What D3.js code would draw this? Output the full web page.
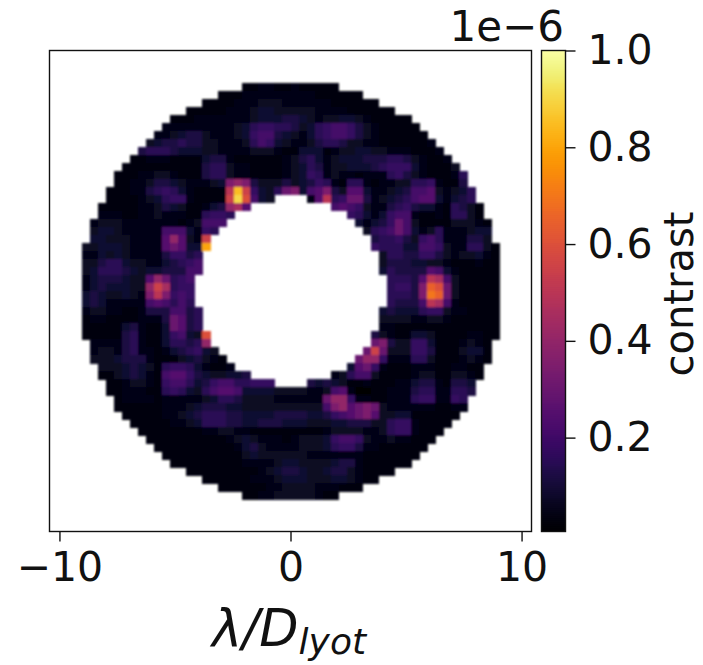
<!DOCTYPE html>
<html>
<head>
<meta charset="utf-8">
<script src="https://cdn.jsdelivr.net/npm/d3@7/dist/d3.min.js"></script>
<style>
html,body{margin:0;padding:0;background:#fff;}
svg{display:block;}
text{font-family:"DejaVu Sans",sans-serif;fill:#111;}
</style>
</head>
<body>
<div id="chart"></div>
<script>
// Contrast, in units of 1e-6, one character per cell.
const levelCodes = "0123456789abcdefghijklmno";
const levelValues = [.01,.03,.05,.07,.09,.12,.15,.18,.21,.25,.3,.35,.4,.45,.5,.55,.6,.65,.7,.75,.8,.85,.9,.95,1];
// Rows from top to bottom, centred on the image; "." is a masked cell inside the ring.
const contrastRows = [
"112211211111",
"111222222222111111",
"1111222333222222111111",
"11111222344333332222111111",
"111222 2222 3444 554 32 334 432 11111",
"2222222 2234 677 6653 467887 532 11111",
"223 455 3222 34 788 5432 467887 532 111111",
"345 5655 3322 23 687 4322 356653 3221 111112",
"5666 5444 332 222 333 211 444 1233 4433 2221112",
"1122 21111 455 211 1111 23564 2344 4555 665 32112",
"11111 11111 566 322 1111 23465 233 44456 777 421113",
"11122 33211 1566 3221 111 23476 2322 1222 675 3211126",
"11223 5543 222 34 bcb 53335 34576 21 66 21 2233 667 21 15",
"11122 56764 21111 elf 7436 ab 489b 53 9942 2345 889 32346",
"11112 34677 21111 fmg 843 .... 29e67aa52 3456 899 42 456",
"11111 223543 11245 cd9 .......... 8987 322 567 544 21 65 31",
"22211 22322 211 6776 .............. 76424 788 211 21 66 31",
"23332 22222 2123 888 ................ 42457a83 1111 333 21",
"34432 2222 888 42 76 .................. 3678a84 236 2 22344",
"44333 2222 9c9 32 f .................... 566753 78 6 2 22 55 3",
"33444 32222 9a9 44 k .................... 7666 4 4 88 7 3 22 66 31",
"22434 32222 577 56 ...................... 3 665 5 77 5 32 334 21",
"33566 43322 456 78 ...................... 3 555 44 33 211 1211",
"34666 54344 555 88 ...................... 4 655 55 98 421 1111",
"24555 433 9ca 678 ........................ 6 665 9 e d 8 3 11111",
"24544 433 cfd 677 ........................ 6 775 b h g a 3 11111",
"45433 432 beb 787 ........................ 6 665 b i h a 3 11111",
"45422 222 898 686 ........................ 6 555 8 e d 8 2 11111",
"23322 11255 58856 ...................... 4 544 46 77 322 1111",
"12211 11222 5a956 ...................... 3 333 22 33 211 1111",
"11111 45211 4a956 ...................... 2 211 11 11 111 1111",
"11111 56211 47843 g .................... 5 3 211 44 3 1111 2211",
"2222 56211 46656 c .................... a b 533 77 4 111 2321",
"2332 56221 24567 43 .................. a f a 3 33 77 5 111 3441",
"33345 5521 11345 321 ................ a c c 7 222 66 3 111 2321",
"33345 431 67764 2112 .............. 4 9 a 7 2 111 22 2 11 22 11",
"11345 421 89975 433 445 .......... 2 3 6 8 8 3 1 1 11 233 11 33 21",
"11233 21 78864 5788 66777 .... 5 4 5 4 3 1 1 211 122 455 21 554",
"11222 11 67643 68998 4444 3333 223 89 2 0 011 222 566 22 665",
"12222 1 22222 34665 3333 2222 22 a cc 7 2 211 222 677 22 76",
"11111 1 22234 55544 3333 3333 33 8 bc 9a b a 3 222 222 11 22",
"11111 22345 66655 4444 5555 44 5 78 9a b 9 3 344 111 111",
"11111 2234 66655 4455 5444 333 445553 3 677 21111",
"11111 1112 2332 2111 1111 1123 33322 3 677 2111",
"11111 1111 1234 3222 12333 4 7887 322 322 111",
"11111 11111 245 3222 2333 46775 221 11111",
"11111 11111 343 3333 3222 2222 111 1111",
"11111 1111 222 2344 333 3455 211 1111",
"11111 1111 2345 543 34553 21111",
"11111 1222 3444 3334 43211",
"11111 12233 33222 111",
"112233333211"
].map(r => r.replace(/ /g, ""));
const gridCells = 60;
const firstRow = 4;
const xTickValues = [-10, 0, 10];
const cbarTickValues = [0.2, 0.4, 0.6, 0.8, 1.0];
const cbarMin = 0.006, cbarMax = 1.0;
const xExtent = [-10.43, 10.43];

const W = 703, H = 665;
const plot = {l: 49.5, r: 531.5, t: 50.5, b: 531.5};
const bar = {l: 541.5, r: 565.5};
const fs = 41;

const svg = d3.select("#chart").append("svg").attr("width", W).attr("height", H);
svg.append("defs").append("filter").attr("id", "soft")
  .attr("x", "-5%").attr("y", "-5%").attr("width", "110%").attr("height", "110%")
  .append("feGaussianBlur").attr("stdDeviation", 1.1);

const colX = d3.scaleBand().domain(d3.range(gridCells)).range([plot.l, plot.r]);
const rowY = d3.scaleBand().domain(d3.range(gridCells)).range([plot.t, plot.b]);
const x = d3.scaleLinear().domain(xExtent).range([plot.l, plot.r]);
const color = d3.scaleSequential(d3.interpolateInferno).domain([cbarMin, cbarMax]);
const level = d3.scaleOrdinal().domain(levelCodes.split("")).range(levelValues);

const cells = [];
contrastRows.forEach((row, i) => {
  const start = gridCells / 2 - Math.ceil(row.length / 2);
  row.split("").forEach((ch, j) => {
    if (ch !== ".") cells.push({row: firstRow + i, col: start + j, value: level(ch)});
  });
});

svg.append("g").attr("filter", "url(#soft)")
  .selectAll("rect").data(cells).join("rect")
  .attr("shape-rendering", "crispEdges")
  .attr("x", d => colX(d.col)).attr("y", d => rowY(d.row))
  .attr("width", colX.bandwidth() + 0.5).attr("height", rowY.bandwidth() + 0.5)
  .attr("fill", d => color(d.value));

svg.append("rect").attr("x", plot.l).attr("y", plot.t)
  .attr("width", plot.r - plot.l).attr("height", plot.b - plot.t)
  .attr("fill", "none").attr("stroke", "#111").attr("stroke-width", 1.4);

const fmt = d => (d < 0 ? "\u2212" : "") + Math.abs(d);
const xAxis = svg.append("g").attr("transform", `translate(0,${plot.b})`)
  .call(d3.axisBottom(x).tickValues(xTickValues).tickFormat(fmt).tickSize(10).tickPadding(10).tickSizeOuter(0));
xAxis.select(".domain").remove();
xAxis.selectAll("line").attr("stroke", "#111").attr("stroke-width", 1.4);
xAxis.selectAll("text").style("font-size", fs + "px").style("font-family", '"DejaVu Sans"').attr("fill", "#111");

svg.append("text").attr("x", 289).attr("y", 646).attr("text-anchor", "middle")
  .style("font-size", "51px").style("font-style", "italic")
  .call(t => {
    t.append("tspan").text("\u03bb/D");
    t.append("tspan").attr("dy", 8).style("font-size", "36px").text("lyot");
  });

// colour bar
const cbY = d3.scaleLinear().domain([cbarMin, cbarMax]).range([plot.b, plot.t]);
const stops = d3.range(0, 242).map(i => cbarMin + (cbarMax - cbarMin) * i / 241);
svg.select("defs").append("clipPath").attr("id", "cbclip").append("rect")
  .attr("x", bar.l).attr("y", plot.t).attr("width", bar.r - bar.l).attr("height", plot.b - plot.t);
svg.append("g").attr("clip-path", "url(#cbclip)").selectAll("rect").data(stops).join("rect")
  .attr("x", bar.l).attr("width", bar.r - bar.l)
  .attr("y", d => cbY(d) - 2).attr("height", 3)
  .attr("fill", d => color(d));
svg.append("rect").attr("x", bar.l).attr("y", plot.t)
  .attr("width", bar.r - bar.l).attr("height", plot.b - plot.t)
  .attr("fill", "none").attr("stroke", "#111").attr("stroke-width", 1.4);

const cbAxis = svg.append("g").attr("transform", `translate(${bar.r},0)`)
  .call(d3.axisRight(cbY).tickValues(cbarTickValues).tickFormat(d3.format(".1f")).tickSize(10).tickPadding(12).tickSizeOuter(0));
cbAxis.select(".domain").remove();
cbAxis.selectAll("line").attr("stroke", "#111").attr("stroke-width", 1.4);
cbAxis.selectAll("text").style("font-size", fs + "px").style("font-family", '"DejaVu Sans"').attr("fill", "#111");

svg.append("text").attr("x", 564).attr("y", 41).attr("text-anchor", "end")
  .style("font-size", "42px").text("1e\u22126");
svg.append("text").attr("transform", "translate(693,294) rotate(-90)")
  .attr("text-anchor", "middle").style("font-size", "40px").text("contrast");
</script>
</body>
</html>
